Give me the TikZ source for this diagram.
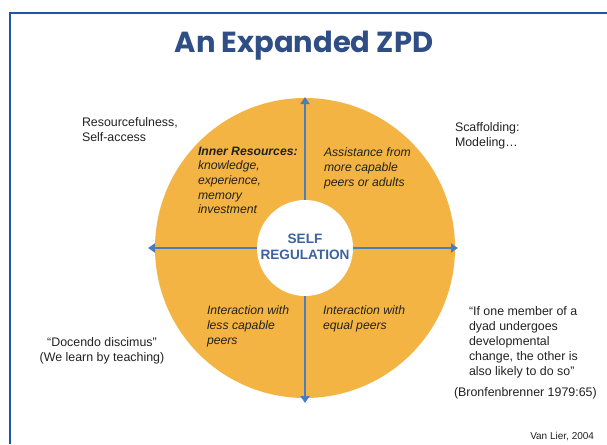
\documentclass[tikz,border=0pt]{standalone}
\usepackage{fontspec}
\setmainfont{Liberation Sans}
\newfontfamily\titlefont{Poppins}
\usetikzlibrary{arrows.meta}
\definecolor{framebl}{HTML}{1F55A5}
\definecolor{titlebl}{HTML}{2F4E86}
\definecolor{orng}{HTML}{F3B443}
\definecolor{arrbl}{HTML}{4A7DBA}
\definecolor{selfbl}{HTML}{3A63A0}
\definecolor{txt}{HTML}{222222}
\tikzset{
  plain/.style={inner sep=0pt, outer sep=0pt, align=left, anchor=north west, font=\fontsize{12.4}{15}\selectfont, text=txt},
  quad/.style={plain, font=\fontsize{12.2}{14.6}\selectfont\itshape},
  axis/.style={draw=arrbl, line width=2.6pt, -{Triangle[width=9pt,length=7pt]}},
}
\begin{document}
\begin{tikzpicture}[x=1pt,y=-1pt]
\useasboundingbox (0,0) rectangle (607,444);
\fill[white] (0,0) rectangle (607,444);
% frame
\draw[framebl, line width=2.8pt] (10,444) -- (10,13) -- (607,13);
% title
\node[inner sep=0pt, text=titlebl, font=\titlefont\bfseries\fontsize{29}{34}\selectfont] (title) at (304,46) {An Expanded ZPD};
% circles
\node[circle, fill=orng, minimum size=300pt, inner sep=0pt] (outer) at (305,248) {};
\node[circle, fill=white, minimum size=96pt, inner sep=0pt] (inner) at (305,248) {};
\coordinate (top) at (305,97);
\coordinate (bot) at (305,403);
\coordinate (lft) at (148,248);
\coordinate (rgt) at (458,248);
\draw[axis] (inner.north) -- (top);
\draw[axis] (inner.south) -- (bot);
\draw[axis] (inner.west) -- (lft);
\draw[axis] (inner.east) -- (rgt);
\node[inner sep=0pt, align=center, text=selfbl, font=\bfseries\fontsize{13.6}{16}\selectfont] (self) at (305,247) {SELF\\REGULATION};
% quadrant texts
\node[quad] (q1) at (198,147) {\textbf{Inner Resources:}\\knowledge,\\experience,\\memory\\investment};
\node[quad] (q2) at (324,148) {Assistance from\\more capable\\peers or adults};
\node[quad] (q3) at (207,306) {Interaction with\\less capable\\peers};
\node[quad] (q4) at (323,306) {Interaction with\\equal peers};
% outside texts
\node[plain] (res) at (82,118) {Resourcefulness,\\Self-access};
\node[plain] (scaf) at (455,123) {Scaffolding:\\Modeling\ldots};
\node[plain, align=center, anchor=north] (doc) at (102,338) {``Docendo discimus''\\(We learn by teaching)};
\node[plain] (quote) at (469,307) {``If one member of a\\dyad undergoes\\developmental\\change, the other is\\also likely to do so''};
\node[plain] (bron) at (454,388) {(Bronfenbrenner 1979:65)};
\node[plain, anchor=east, font=\fontsize{10}{12}\selectfont] (van) at (594,437) {Van Lier, 2004};
\end{tikzpicture}
\end{document}
